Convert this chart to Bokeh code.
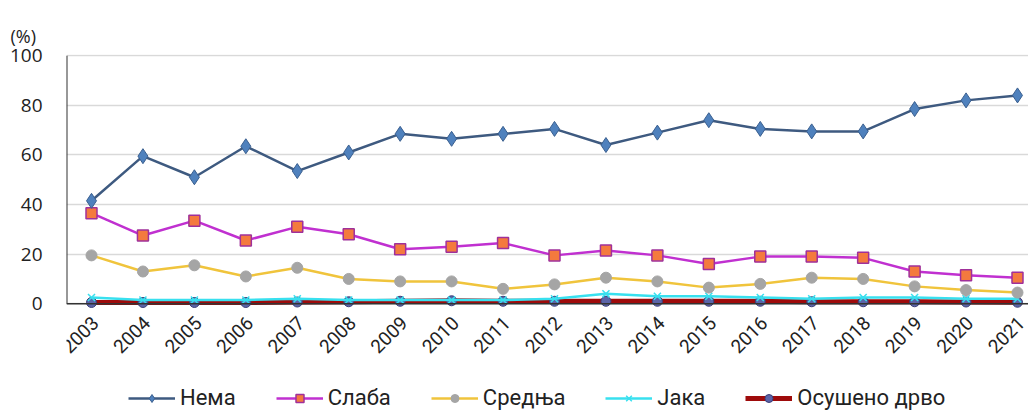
import numpy as np
from bokeh.plotting import figure
from bokeh.models import Legend, LegendItem, Range1d, Span, FixedTicker
from bokeh.core.properties import value
from bokeh.embed import file_html
from bokeh.resources import INLINE

years = list(range(2003, 2022))
nema = [41.5, 59.5, 51.0, 63.5, 53.5, 61.0, 68.5, 66.5, 68.5, 70.5, 64.0, 69.0, 74.0, 70.5, 69.5, 69.5, 78.5, 82.0, 84.0]
slaba = [36.5, 27.5, 33.5, 25.5, 31.0, 28.0, 22.0, 23.0, 24.5, 19.5, 21.5, 19.5, 16.0, 19.0, 19.0, 18.5, 13.0, 11.5, 10.5]
srednja = [19.5, 13.0, 15.5, 11.0, 14.5, 10.0, 9.0, 9.0, 6.0, 7.8, 10.5, 9.0, 6.5, 8.0, 10.5, 10.0, 7.0, 5.5, 4.5]
jaka = [2.5, 1.5, 1.5, 1.5, 2.0, 1.5, 1.5, 1.5, 1.5, 2.0, 4.0, 3.0, 3.0, 2.5, 2.0, 2.5, 2.5, 2.0, 2.0]
osuseno = [0.5, 0.5, 0.5, 0.5, 0.7, 0.8, 1.0, 1.2, 1.0, 1.0, 1.0, 1.0, 1.0, 1.0, 0.8, 0.8, 0.8, 0.7, 0.6]
names = ["Нема", "Слаба", "Средња", "Јака", "Осушено дрво"]
y_ticks = [0, 20, 40, 60, 80, 100]
year_labels = [str(y) for y in years]

x_start = 2002.514
p = figure(frame_width=962, frame_height=356, output_backend="svg", toolbar_location=None,
           x_range=Range1d(x_start, 2021.214), y_range=Range1d(-43.05, 100.5),
           title="(%)")
p.min_border_left = 66
p.min_border_right = 0
p.min_border_top = 54
p.min_border_bottom = 0
p.title.text_font = "Open Sans"
p.title.text_font_size = "18px"
p.title.text_font_style = "normal"
p.title.text_color = "#222222"
p.title.offset = -56
p.title.standoff = 14
p.outline_line_color = None
p.background_fill_color = "white"

p.xgrid.grid_line_color = None
p.ygrid.grid_line_color = "#d9d9d9"
p.ygrid.grid_line_width = 1.5
p.yaxis.ticker = FixedTicker(ticks=y_ticks)
p.yaxis.major_label_text_font = "Open Sans"
p.yaxis.major_label_text_font_size = "19px"
p.yaxis.major_label_text_color = "#222222"
p.yaxis.axis_line_color = None
p.yaxis.major_tick_line_color = None
p.yaxis.minor_tick_line_color = None
p.yaxis.major_label_standoff = 18
p.xaxis.visible = False

# axis lines
p.add_layout(Span(location=0, dimension="width", line_color="#333333", line_width=1.5))
p.segment(x0=[x_start], y0=[y_ticks[0]], x1=[x_start], y1=[y_ticks[-1]], line_color="#333333", line_width=2)

# year labels (rotated)
p.text(x=years, y=[0] * len(years), text=year_labels, angle=np.pi / 4,
       text_align="right", text_baseline="middle", x_offset=4, y_offset=16,
       text_font=value("Roboto"), text_font_size="19px", text_color="#222222")

r1 = p.line(years, osuseno, line_color="#9e0b0b", line_width=5)
r1m = p.scatter(years, osuseno, marker="circle", size=10, fill_color="#5b64a8", line_color="#3b3f78")
r2 = p.line(years, jaka, line_color="#38e0ef", line_width=2.5)
r2m = p.scatter(years, jaka, marker="x", size=10, line_color="#38e0ef", line_width=1.5)
r3 = p.line(years, srednja, line_color="#f0c43c", line_width=2.5)
r3m = p.scatter(years, srednja, marker="circle", size=11, fill_color="#a5a5a5", line_color="#a5a5a5")
r4 = p.line(years, slaba, line_color="#c030d0", line_width=2.5)
r4m = p.scatter(years, slaba, marker="square", size=11, fill_color="#f47a3e", line_color="#a0309a", line_width=1.5)
r5 = p.line(years, nema, line_color="#3e5a80", line_width=2.5)
r5m = p.scatter(years, nema, marker="diamond", size=15, fill_color="#4f81bd", line_color="#3a5f8f")

legend = Legend(items=[
    LegendItem(label=names[0], renderers=[r5, r5m]),
    LegendItem(label=names[1], renderers=[r4, r4m]),
    LegendItem(label=names[2], renderers=[r3, r3m]),
    LegendItem(label=names[3], renderers=[r2, r2m]),
    LegendItem(label=names[4], renderers=[r1, r1m]),
], orientation="horizontal", location=(62, 0))
legend.label_text_font = "Roboto"
legend.label_text_font_size = "22px"
legend.label_text_color = "#222222"
legend.border_line_color = None
legend.background_fill_alpha = 0
legend.glyph_width = 47
legend.glyph_height = 20
legend.label_standoff = 5
legend.spacing = 40
legend.margin = 0
legend.padding = 0
p.add_layout(legend, "center")

open("out.html", "w").write(file_html(p, INLINE))
